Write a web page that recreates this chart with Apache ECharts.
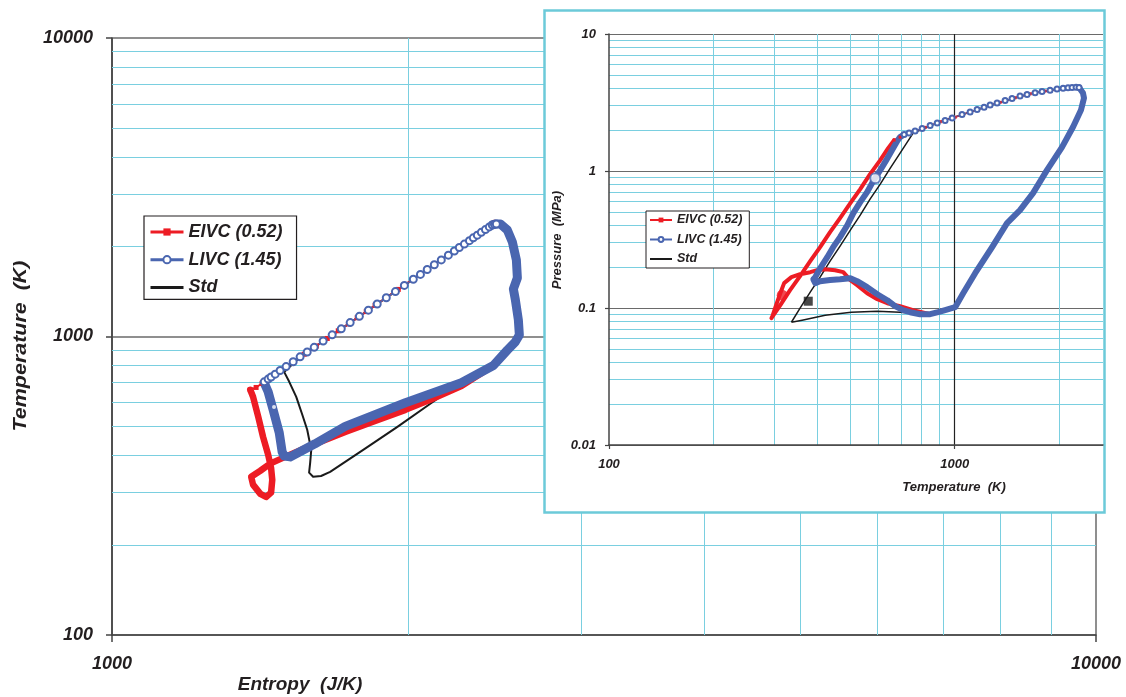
<!DOCTYPE html>
<html>
<head>
<meta charset="utf-8">
<script src="https://cdn.jsdelivr.net/npm/echarts@6.0.0/dist/echarts.min.js"></script>
<style>
  html, body { margin: 0; padding: 0; background: #fff; }
  #chart { width: 1126px; height: 697px; }
</style>
</head>
<body>
<div id="chart"></div>
<script>
// ---------------- DATA ----------------
// Main chart: Temperature (K) vs Entropy (J/K), log-log
const mainXTicks = [1000, 10000];
const mainXTickLabels = ['1000', '10000'];
const mainYTicks = [100, 1000, 10000];
const mainYTickLabels = ['100', '1000', '10000'];
const mainXMinor = [2000, 3000, 4000, 5000, 6000, 7000, 8000, 9000];
const mainYMinor = [200, 300, 400, 500, 600, 700, 800, 900, 2000, 3000, 4000, 5000, 6000, 7000, 8000, 9000];

// Inset: Pressure (MPa) vs Temperature (K), log-log
const insetXTicks = [100, 1000];
const insetXTickLabels = ['100', '1000'];
const insetYTicks = [0.01, 0.1, 1, 10];
const insetYTickLabels = ['0.01', '0.1', '1', '10'];
const insetXMinor = [200, 300, 400, 500, 600, 700, 800, 900, 2000];
const insetXMajor = [1000];
const insetYMinor = [0.02, 0.03, 0.04, 0.05, 0.06, 0.07, 0.08, 0.09, 0.2, 0.3, 0.4, 0.5, 0.6, 0.7, 0.8, 0.9, 2, 3, 4, 5, 6, 7, 8, 9];

const seriesNames = ['EIVC (0.52)', 'LIVC (1.45)', 'Std'];

// --- main chart curves [entropy, temperature]
const stdMain = [
  [1496,761],[1553,853],[1627,949],[1706,1055],[1788,1174],[1873,1306],[1963,1452],[2058,1615],[2156,1797],[2259,1998],[2368,2223],[2435,2369],
  [2458,2382],[2522,2274],[2576,1805],[2582,1572],[2558,1443],[2588,1137],[2594,1012],[2522,900],[2441,800],[2265,700],
  [2228,678],[2106,595],[1950,498],[1800,417],[1666,352],[1631,341],[1601,339],[1586,350],[1590,378],[1594,417],[1579,487],[1561,547],[1539,628],[1514,705],[1496,761]
];
const eivcMainCompression = [
  [1382,663],[1401,675],[1421,697],[1448,727],[1482,767],[1524,818],[1568,872],[1613,929],[1655,985],[1698,1045],[1739,1102],[1775,1156],
  [1813,1212],[1851,1272],[1900,1349],[1954,1438],[2019,1550],[2087,1669],[2156,1799],[2228,1937],[2292,2064],[2357,2200],[2413,2321],[2447,2400]
];
const eivcMainLoop = [
  [2447,2400],[2481,2383],[2522,2274],[2552,2073],[2576,1805],[2582,1572],[2558,1443],[2570,1326],[2588,1137],[2594,1012],[2570,960],[2522,900],[2441,800],
  [2265,682],[2106,614],[1987,568],[1851,521],[1726,479],[1601,434],[1517,402],[1448,375],[1415,355],[1385,339],[1391,319],[1415,297],[1434,290],
  [1451,300],[1455,331],[1451,363],[1441,402],[1424,461],[1408,538],[1391,628],[1382,663]
];
const livcMainCircles = [
  [1428,705],[1441,720],[1451,732],[1465,748],[1482,769],[1503,793],[1528,823],[1553,855],[1579,887],[1605,920],[1639,966],[1674,1013],
  [1710,1061],[1746,1113],[1784,1168],[1822,1225],[1860,1285],[1900,1348],[1941,1414],[1982,1483],[2024,1555],[2058,1614],[2091,1676],
  [2126,1740],[2161,1805],[2197,1873],[2228,1934],[2254,1986],[2281,2040],[2308,2095],[2329,2140],[2351,2185],[2373,2233],[2396,2281],
  [2418,2329],[2435,2364],[2447,2376],[2458,2382]
];
const livcMainBand = [
  [2435,2364],[2458,2382],[2481,2383],[2522,2274],[2552,2073],[2576,1805],[2582,1572],[2558,1443],[2570,1326],[2588,1137],[2594,1012],
  [2570,960],[2522,900],[2441,800],[2265,700],[1987,600],[1726,500],[1608,437],[1517,395],[1496,398],[1489,411],[1479,476],[1458,568],[1441,653],[1428,699]
];
const livcMainDot = [[1461,581]];

// --- inset curves [temperature, pressure]
const stdInset = [
  [337,0.0787],[357,0.0997],[382,0.1304],[408,0.168],[436,0.2197],[466,0.2827],[499,0.370],[533,0.476],[569,0.623],[609,0.802],[651,1.050],
  [695,1.351],[729,1.626],[758,1.891],[908,2.288],[1108,2.693],[1353,3.171],[1652,3.658],[2017,3.979],[2228,4.080],[2350,3.707],[2319,2.786],
  [2044,1.495],[1685,0.690],[1417,0.416],[1146,0.1795],[1003,0.1013],[938,0.0964],[849,0.0916],[768,0.0916],[695,0.0932],[597,0.0947],
  [502,0.0932],[422,0.0886],[362,0.0815],[337,0.0787]
];
const eivcInsetTop = [
  [668,1.681],[695,1.768],[753,1.923],[821,2.082],[908,2.288],[1003,2.468],[1108,2.693],[1224,2.929],[1353,3.171],[1495,3.425],[1652,3.658],
  [1825,3.834],[2017,3.979],[2228,4.080]
];
const eivcInsetLoop = [
  [849,0.0901],[758,0.0964],[695,0.1031],[638,0.1084],[597,0.1160],[558,0.1282],[522,0.1467],[499,0.1596],[476,0.1826],[451,0.1888],[422,0.192],
  [400,0.1888],[382,0.1826],[357,0.1765],[337,0.168],[321,0.152],[313,0.1282],[305,0.1066],[297,0.0871],[295,0.0842],
  [313,0.1048],[334,0.1349],[357,0.1707],[382,0.2197],[408,0.278],[436,0.358],[466,0.453],[499,0.583],[533,0.738],[569,0.949],[609,1.201],[642,1.470],[668,1.681]
];
const livcInsetCircles = [
  [714,1.845],[738,1.891],[768,1.957],[805,2.047],[849,2.146],[890,2.238],[938,2.334],[983,2.435],[1050,2.582],[1108,2.693],[1161,2.809],
  [1216,2.915],[1266,3.029],[1326,3.133],[1399,3.268],[1465,3.380],[1545,3.525],[1619,3.615],[1708,3.720],[1789,3.808],[1887,3.886],
  [1977,3.966],[2058,4.019],[2127,4.053],[2185,4.073],[2244,4.080],[2289,4.066]
];
const livcInsetBand = [
  [2289,4.066],[2350,3.707],[2366,3.408],[2319,2.786],[2199,2.093],[2044,1.495],[1849,1.015],[1685,0.690],[1545,0.518],[1417,0.416],[1283,0.278],
  [1146,0.1795],[1058,0.1282],[1003,0.1013],[938,0.0964],[895,0.0932],[849,0.0901],[794,0.0901],[743,0.0932],[709,0.0964],[672,0.1031],
  [638,0.114],[597,0.126],[558,0.142],[522,0.157],[499,0.165],[466,0.162],[436,0.160],[408,0.157],[395,0.152],[390,0.162],[395,0.168],
  [408,0.195],[428,0.235],[445,0.278],[466,0.329],[489,0.402],[509,0.493],[533,0.593],[558,0.701],[581,0.844],[609,1.015],[634,1.201],
  [659,1.421],[682,1.654],[695,1.768],[714,1.845]
];
const eivcInsetMark = [[317,0.124]];
const stdInsetMark = [[377,0.1121]];
const livcInsetMark = [[589,0.887]];

// ---------------- STYLE ----------------
const RED = '#ed1c24', BLUE = '#4a66b0', BLACK = '#1a1a1a';
const CYAN = '#7acfe0', FRAME = '#6ccad9', MAJOR = '#6a6a6a', AXIS = '#444';
const FONT = '"Liberation Sans", Arial, sans-serif';
const TXT = '#231f20';

function fmt(ticks, labels) {
  return function (v) {
    for (let i = 0; i < ticks.length; i++) {
      if (Math.abs(v - ticks[i]) <= ticks[i] * 1e-6) return labels[i];
    }
    return '';
  };
}
const labelStyle = (size, margin) => ({
  fontFamily: FONT, fontSize: size, fontWeight: 'bold', fontStyle: 'italic', color: TXT, margin: margin
});
// gridline segments built from the tick value arrays, spanning each axis range
function vLines(values, yMin, yMax, style) {
  return values.map(v => ({ coords: [[v, yMin], [v, yMax]], lineStyle: style }));
}
function hLines(values, xMin, xMax, style) {
  return values.map(v => ({ coords: [[xMin, v], [xMax, v]], lineStyle: style }));
}
const minorStyle = { color: CYAN, width: 1, opacity: 1, type: 'solid', curveness: 0 };
const insetMajorStyle = { color: '#222', width: 1.2, opacity: 1, type: 'solid', curveness: 0 };

const chart = echarts.init(document.getElementById('chart'), null, { renderer: 'canvas' });

const legendIconStd = 'path://M0,0L33,0L33,3L0,3Z';
const legendData = [
  { name: seriesNames[0] },
  { name: seriesNames[1] },
  { name: seriesNames[2], icon: legendIconStd }
];

const option = {
  animation: false,
  backgroundColor: '#fff',
  grid: [
    { left: 112, top: 38, width: 984, height: 597, show: false },
    { left: 609, top: 34, width: 494, height: 411, show: false, z: 10 }
  ],
  xAxis: [
    {
      type: 'log', logBase: 10, gridIndex: 0, min: 1000, max: 10000,
      axisLine: { show: true, lineStyle: { color: AXIS, width: 1.5 } },
      axisTick: { show: true, inside: false, length: 7, lineStyle: { color: AXIS, width: 1.5 } },
      axisLabel: Object.assign(labelStyle(18, 20), { formatter: fmt(mainXTicks, mainXTickLabels) }),
      splitLine: { show: true, lineStyle: { color: MAJOR, width: 1.5 } }
    },
    {
      type: 'log', logBase: 10, gridIndex: 1, min: 100, max: 2685, z: 10,
      axisLine: { show: true, lineStyle: { color: AXIS, width: 1.5 } },
      axisTick: { show: true, inside: false, length: 4, lineStyle: { color: AXIS, width: 1.2 }, customValues: insetXTicks },
      axisLabel: Object.assign(labelStyle(13, 13), { formatter: fmt(insetXTicks, insetXTickLabels), customValues: insetXTicks }),
      splitLine: { show: false }
    }
  ],
  yAxis: [
    {
      type: 'log', logBase: 10, gridIndex: 0, min: 100, max: 10000,
      axisLine: { show: true, lineStyle: { color: AXIS, width: 1.5 } },
      axisTick: { show: true, inside: false, length: 6, lineStyle: { color: AXIS, width: 1.5 } },
      axisLabel: Object.assign(labelStyle(18, 19), { formatter: fmt(mainYTicks, mainYTickLabels) }),
      splitLine: { show: true, lineStyle: { color: MAJOR, width: 1.5 } }
    },
    {
      type: 'log', logBase: 10, gridIndex: 1, min: 0.01, max: 10, z: 10,
      axisLine: { show: true, lineStyle: { color: AXIS, width: 1.5 } },
      axisTick: { show: true, inside: false, length: 4, lineStyle: { color: AXIS, width: 1.2 } },
      axisLabel: Object.assign(labelStyle(13, 13), { formatter: fmt(insetYTicks, insetYTickLabels) }),
      splitLine: { show: true, lineStyle: { color: MAJOR, width: 1.2 } }
    }
  ],
  legend: [
    {
      data: legendData, orient: 'vertical', left: 144, top: 216,
      padding: [6, 14, 2, 5], itemGap: 7.7, itemWidth: 33, itemHeight: 9,
      backgroundColor: '#fff', borderColor: TXT, borderWidth: 1.2, borderRadius: 0,
      lineStyle: { width: 3 },
      textStyle: { fontFamily: FONT, fontSize: 18, fontWeight: 'bold', fontStyle: 'italic', color: TXT, lineHeight: 20 },
      selectedMode: false, z: 4
    },
    {
      data: legendData, orient: 'vertical', left: 646, top: 211,
      padding: [2, 7, 2, 3], itemGap: 5.5, itemWidth: 22, itemHeight: 6,
      backgroundColor: '#fff', borderColor: TXT, borderWidth: 1, borderRadius: 0,
      lineStyle: { width: 2 },
      textStyle: { fontFamily: FONT, fontSize: 12.5, fontWeight: 'bold', fontStyle: 'italic', color: TXT, lineHeight: 14 },
      selectedMode: false, z: 20
    }
  ],
  graphic: {
    elements: [
      { type: 'rect', z: 6, silent: true,
        shape: { x: 544.5, y: 10.5, width: 560, height: 502 },
        style: { fill: '#fff', stroke: FRAME, lineWidth: 2.5 } },
      { type: 'text', z: 6, x: 300, y: 685, silent: true,
        style: { text: 'Entropy  (J/K)', font: 'italic bold 19px ' + FONT, fill: TXT, textAlign: 'center', textVerticalAlign: 'middle' } },
      { type: 'text', z: 6, x: 21, y: 346, rotation: Math.PI / 2, scaleX: 1.13, silent: true,
        style: { text: 'Temperature  (K)', font: 'italic bold 19px ' + FONT, fill: TXT, textAlign: 'center', textVerticalAlign: 'middle' } },
      { type: 'text', z: 30, x: 954, y: 487, silent: true,
        style: { text: 'Temperature  (K)', font: 'italic bold 13px ' + FONT, fill: TXT, textAlign: 'center', textVerticalAlign: 'middle' } },
      { type: 'text', z: 30, x: 557, y: 240, rotation: Math.PI / 2, silent: true,
        style: { text: 'Pressure  (MPa)', font: 'italic bold 13px ' + FONT, fill: TXT, textAlign: 'center', textVerticalAlign: 'middle' } }
    ]
  },
  series: [
    // main minor gridlines
    {
      type: 'lines', coordinateSystem: 'cartesian2d', xAxisIndex: 0, yAxisIndex: 0, z: 1, silent: true,
      polyline: false, effect: { show: false },
      lineStyle: minorStyle,
      data: vLines(mainXMinor, 100, 10000, minorStyle).concat(hLines(mainYMinor, 1000, 10000, minorStyle))
    },
    // inset gridlines
    {
      type: 'lines', coordinateSystem: 'cartesian2d', xAxisIndex: 1, yAxisIndex: 1, z: 10, silent: true,
      polyline: false, effect: { show: false },
      lineStyle: minorStyle,
      data: vLines(insetXMinor, 0.01, 10, minorStyle)
        .concat(hLines(insetYMinor, 100, 2685, minorStyle))
        .concat(vLines(insetXMajor, 0.01, 10, insetMajorStyle))
    },
    // ---- main chart
    { name: 'Std', type: 'line', xAxisIndex: 0, yAxisIndex: 0, data: stdMain, symbol: 'none', z: 2,
      lineStyle: { color: BLACK, width: 2, join: 'round' }, itemStyle: { color: BLACK }, emphasis: { disabled: true } },
    { name: 'EIVC (0.52)', type: 'line', xAxisIndex: 0, yAxisIndex: 0, data: eivcMainCompression, z: 2,
      symbol: 'rect', symbolSize: 5, showSymbol: true,
      lineStyle: { color: RED, width: 2 }, itemStyle: { color: RED }, emphasis: { disabled: true } },
    { name: 'EIVC (0.52)', type: 'line', xAxisIndex: 0, yAxisIndex: 0, data: eivcMainLoop, z: 2, symbol: 'none',
      lineStyle: { color: RED, width: 6.5, join: 'round', cap: 'round' }, itemStyle: { color: RED }, emphasis: { disabled: true } },
    { name: 'LIVC (1.45)', type: 'line', xAxisIndex: 0, yAxisIndex: 0, data: livcMainCircles, z: 2,
      symbol: 'emptyCircle', symbolSize: 7, showSymbol: true,
      lineStyle: { color: BLUE, width: 1.5 }, itemStyle: { color: BLUE, borderWidth: 1.5 }, emphasis: { disabled: true } },
    { name: 'LIVC (1.45)', type: 'line', xAxisIndex: 0, yAxisIndex: 0, data: livcMainBand, z: 2, symbol: 'none',
      lineStyle: { color: BLUE, width: 9, join: 'round', cap: 'round' }, itemStyle: { color: BLUE }, emphasis: { disabled: true } },
    { name: 'LIVC (1.45)', type: 'scatter', xAxisIndex: 0, yAxisIndex: 0, data: livcMainDot, z: 3,
      symbol: 'circle', symbolSize: 4, itemStyle: { color: '#fff' }, emphasis: { disabled: true } },
    // ---- inset
    { name: 'Std', type: 'line', xAxisIndex: 1, yAxisIndex: 1, data: stdInset, symbol: 'none', z: 12,
      lineStyle: { color: BLACK, width: 1.5, join: 'round' }, itemStyle: { color: BLACK }, emphasis: { disabled: true } },
    { name: 'EIVC (0.52)', type: 'line', xAxisIndex: 1, yAxisIndex: 1, data: eivcInsetTop, z: 12,
      symbol: 'rect', symbolSize: 3, showSymbol: true,
      lineStyle: { color: RED, width: 1.5 }, itemStyle: { color: RED }, emphasis: { disabled: true } },
    { name: 'EIVC (0.52)', type: 'line', xAxisIndex: 1, yAxisIndex: 1, data: eivcInsetLoop, z: 12, symbol: 'none',
      lineStyle: { color: RED, width: 4, join: 'round', cap: 'round' }, itemStyle: { color: RED }, emphasis: { disabled: true } },
    { name: 'LIVC (1.45)', type: 'line', xAxisIndex: 1, yAxisIndex: 1, data: livcInsetBand, z: 12, symbol: 'none',
      lineStyle: { color: BLUE, width: 6, join: 'round', cap: 'round' }, itemStyle: { color: BLUE }, emphasis: { disabled: true } },
    { name: 'LIVC (1.45)', type: 'line', xAxisIndex: 1, yAxisIndex: 1, data: livcInsetCircles, z: 12,
      symbol: 'emptyCircle', symbolSize: 5, showSymbol: true,
      lineStyle: { color: BLUE, width: 1 }, itemStyle: { color: BLUE, borderWidth: 1.2 }, emphasis: { disabled: true } },
    { name: 'EIVC (0.52)', type: 'scatter', xAxisIndex: 1, yAxisIndex: 1, data: eivcInsetMark, z: 13,
      symbol: 'circle', symbolSize: 11, itemStyle: { color: RED }, emphasis: { disabled: true } },
    { name: 'Std', type: 'scatter', xAxisIndex: 1, yAxisIndex: 1, data: stdInsetMark, z: 13,
      symbol: 'rect', symbolSize: 9, itemStyle: { color: BLACK }, emphasis: { disabled: true } },
    { name: 'LIVC (1.45)', type: 'scatter', xAxisIndex: 1, yAxisIndex: 1, data: livcInsetMark, z: 13,
      symbol: 'emptyCircle', symbolSize: 10, itemStyle: { color: BLUE, borderWidth: 1.2 }, emphasis: { disabled: true } }
  ]
};
chart.setOption(option);
</script>
</body>
</html>
